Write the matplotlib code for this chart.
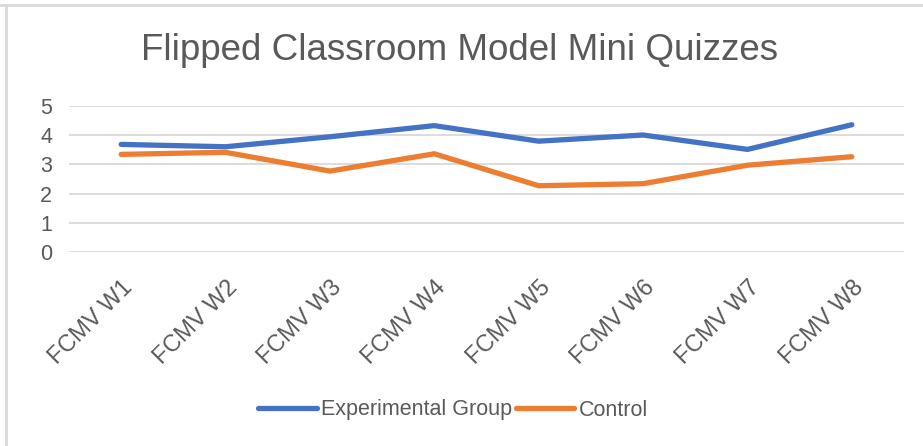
import matplotlib.pyplot as plt
from matplotlib.lines import Line2D

plt.rcParams['font.family'] = ['Liberation Sans', 'DejaVu Sans']

weeks = ["FCMV W1", "FCMV W2", "FCMV W3", "FCMV W4",
         "FCMV W5", "FCMV W6", "FCMV W7", "FCMV W8"]
experimental = [3.68, 3.60, 3.94, 4.32, 3.79, 4.00, 3.51, 4.35]
control = [3.34, 3.41, 2.77, 3.36, 2.27, 2.34, 2.97, 3.26]

blue = "#4472C4"
orange = "#ED7D31"
grid_col = "#D9D9D9"
text_col = "#595959"

fig = plt.figure(figsize=(9.23, 4.46), dpi=100)

# chart frame (only top and left edges are visible in the crop)
fig.add_artist(Line2D([0, 1], [1 - 4.5 / 446, 1 - 4.5 / 446],
                      transform=fig.transFigure, color=grid_col, lw=2))
fig.add_artist(Line2D([5.5 / 923, 5.5 / 923], [0, 1 - 4.5 / 446],
                      transform=fig.transFigure, color=grid_col, lw=2))

ax = fig.add_axes([69 / 923, 1 - 252.3 / 446, (904 - 69) / 923, (252.3 - 105.7) / 446])

x = range(len(weeks))
ax.plot(x, experimental, color=blue, lw=3.8, solid_capstyle='round',
        solid_joinstyle='round', label="Experimental Group", zorder=3)
ax.plot(x, control, color=orange, lw=3.8, solid_capstyle='round',
        solid_joinstyle='round', label="Control", zorder=3)

ax.set_xlim(-0.5, len(weeks) - 0.5)
ax.set_ylim(0, 5)
ax.set_yticks(range(6))
ax.yaxis.grid(True, color=grid_col, lw=1.3)
ax.set_axisbelow(True)
for s in ax.spines.values():
    s.set_visible(False)
ax.tick_params(axis='both', length=0, labelsize=15.5, colors=text_col)
ax.tick_params(axis='y', pad=12)
ax.tick_params(axis='x', pad=17)

ax.set_xticks(list(x))
ax.set_xticklabels(weeks, rotation=45, ha='right', va='top',
                   rotation_mode='anchor', fontsize=16.9, color=text_col)

fig.text(0.498, 1 - 50 / 446, "Flipped Classroom Model Mini Quizzes",
         ha='center', va='center', fontsize=26.5, color=text_col)

fig.legend(loc='center', bbox_to_anchor=(0.491, 1 - 410 / 446), ncol=2,
           frameon=False, fontsize=15.5, handlelength=2.7, handletextpad=0.2,
           columnspacing=0.2, labelcolor=text_col)

fig.savefig("out.png", dpi=100, facecolor="white")
